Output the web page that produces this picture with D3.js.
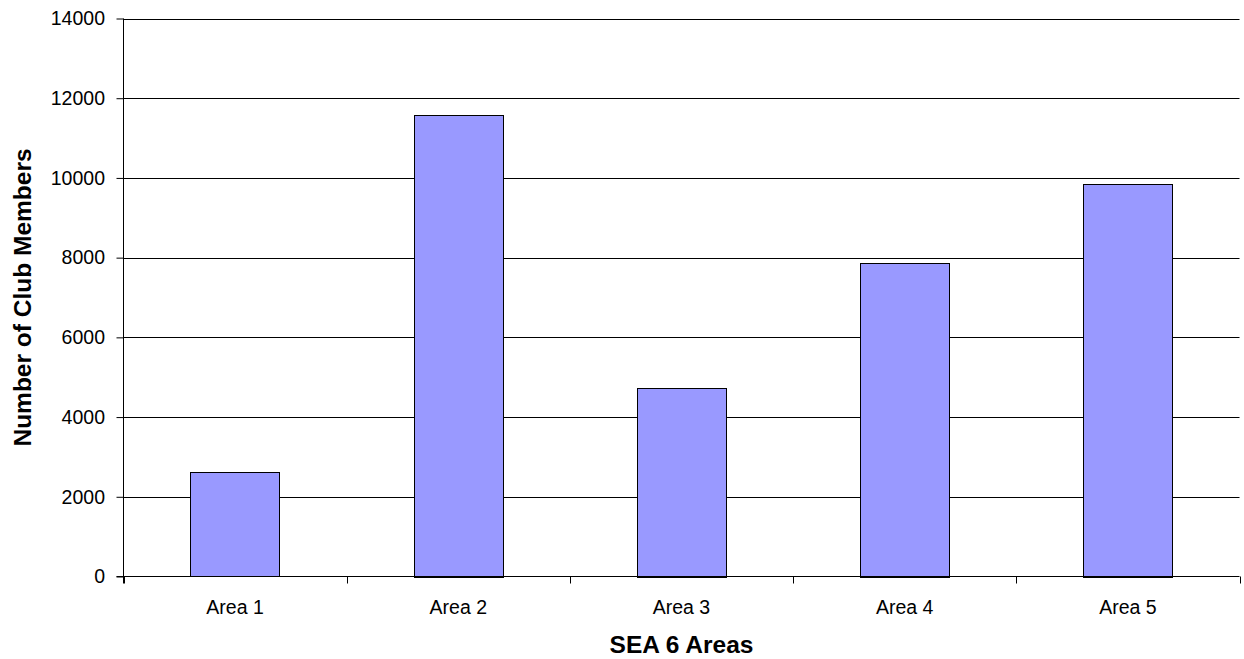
<!DOCTYPE html>
<html><head><meta charset="utf-8">
<script src="https://cdn.jsdelivr.net/npm/d3@7"></script>
<style>body{margin:0;background:#fff}svg{display:block}text{font-family:"Liberation Sans",Arial,sans-serif}</style>
</head><body>
<svg id="c" width="1244" height="659"></svg>
<script>
const categories = ["Area 1","Area 2","Area 3","Area 4","Area 5"];
const values = [2620, 11580, 4740, 7870, 9860];
const yTicks = [0,2000,4000,6000,8000,10000,12000,14000];

const svg = d3.select("#c");
const m = {left:123.5, right:1239.5, top:18.5, bottom:576.5};
const x = d3.scaleBand().domain(categories).range([m.left, m.right]).paddingInner(0.6).paddingOuter(0.3);
const xb = d3.scaleBand().domain(categories).range([m.left, m.right]);
const y = d3.scaleLinear().domain([0,14000]).range([m.bottom, m.top]);

// gridlines
svg.append("g").selectAll("line").data(yTicks.filter(d=>d>0)).join("line")
  .attr("x1", m.left).attr("x2", m.right)
  .attr("y1", d=>Math.round(y(d))+0.5).attr("y2", d=>Math.round(y(d))+0.5)
  .attr("stroke","#000").attr("stroke-width",1);

// bars
svg.append("g").selectAll("rect").data(values).join("rect")
  .attr("x", (d,i)=>Math.round(x(categories[i]))+0.5)
  .attr("width", Math.round(x.bandwidth()))
  .attr("y", d=>Math.round(y(d))+0.5)
  .attr("height", d=>Math.round(m.bottom - y(d)))
  .attr("fill","#9999ff").attr("stroke","#000").attr("stroke-width",1);

// y axis
const ya = d3.axisLeft(y).tickValues(yTicks).tickSize(7).tickPadding(11.5).tickFormat(d3.format("d"));
const gy = svg.append("g").attr("transform",`translate(${m.left},0)`).call(ya);
gy.select(".domain").attr("d",`M0,${m.top}V${m.bottom+7}`);
gy.selectAll("text").attr("font-size","19.5px").attr("fill","#000").attr("font-family","Liberation Sans, Arial, sans-serif");

// x axis line
svg.append("line").attr("x1",m.left-7).attr("x2",m.right).attr("y1",m.bottom).attr("y2",m.bottom).attr("stroke","#000");
// x ticks at band boundaries
const bounds = categories.map(c=>xb(c)).concat([m.right]);
svg.append("g").selectAll("line").data(bounds).join("line")
  .attr("x1",d=>Math.round(d)+0.5).attr("x2",d=>Math.round(d)+0.5)
  .attr("y1",m.bottom).attr("y2",m.bottom+7).attr("stroke","#000");
svg.append("g").selectAll("text").data(categories).join("text")
  .attr("x",d=>xb(d)+xb.bandwidth()/2).attr("y",614)
  .attr("text-anchor","middle").attr("font-size","19.5px").text(d=>d);

// titles
svg.append("text").attr("x",(m.left+m.right)/2).attr("y",653).attr("text-anchor","middle")
  .attr("font-size","24.5px").attr("font-weight","bold").text("SEA 6 Areas");
svg.append("text").attr("transform",`translate(31,${(m.top+m.bottom)/2}) rotate(-90)`)
  .attr("text-anchor","middle").attr("font-size","24.5px").attr("font-weight","bold").text("Number of Club Members");
</script>
</body></html>
